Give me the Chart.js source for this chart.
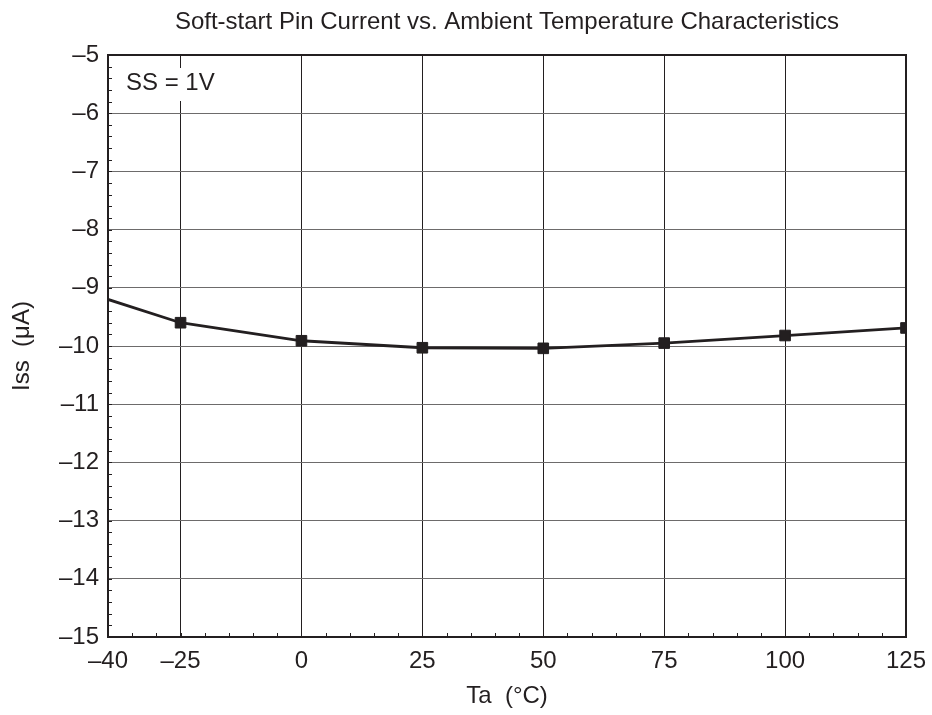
<!DOCTYPE html>
<html>
<head>
<meta charset="utf-8">
<script src="https://cdn.jsdelivr.net/npm/chart.js@4/dist/chart.umd.min.js"></script>
<style>
  html, body { margin: 0; padding: 0; background: #fff; }
  canvas { display: block; }
</style>
</head>
<body>
<canvas id="chart" width="932" height="715"></canvas>
<script>
// Ta (°C) and Iss (µA)
const temps = [-40, -25, 0, 25, 50, 75, 100, 125];
const issValues = [-9.20, -9.60, -9.91, -10.03, -10.04, -9.95, -9.82, -9.69];
const pointSizes = [0, 7.5, 7.5, 7.5, 7.5, 7.5, 7.5, 7.5];
const xTickValues = [-40, -25, 0, 25, 50, 75, 100, 125];
const yTickValues = [-15, -14, -13, -12, -11, -10, -9, -8, -7, -6, -5];

const INK = '#231f20';
const FONT = "'Liberation Sans', Arial, Helvetica, sans-serif";

const fmt = v => (v < 0 ? '\u2013' + Math.abs(v) : String(v));

// frame, minor ticks and the SS = 1V note
const extras = {
  id: 'extras',
  beforeDatasetsDraw(chart) {
    const { ctx, chartArea: a, scales: { x, y } } = chart;
    ctx.save();
    ctx.strokeStyle = INK;
    ctx.lineWidth = 1;
    ctx.beginPath();
    for (let t = -35; t < 125; t += 5) {
      const px = Math.round(x.getPixelForValue(t)) + 0.5;
      ctx.moveTo(px, a.bottom);
      ctx.lineTo(px, a.bottom - 4);
    }
    for (let v = -14.8; v < -5; v += 0.2) {
      const py = Math.round(y.getPixelForValue(v)) + 0.5;
      ctx.moveTo(a.left, py);
      ctx.lineTo(a.left + 4, py);
    }
    ctx.stroke();
    ctx.lineWidth = 2;
    ctx.strokeRect(a.left, a.top, a.right - a.left, a.bottom - a.top);

    ctx.fillStyle = '#fff';
    ctx.fillRect(a.left + 10, a.top + 13, 105, 33);
    ctx.fillStyle = INK;
    ctx.font = '24px ' + FONT;
    ctx.textBaseline = 'middle';
    ctx.fillText('SS = 1V', a.left + 18, a.top + 28);
    ctx.restore();
  }
};

new Chart(document.getElementById('chart'), {
  type: 'line',
  data: {
    labels: temps,
    datasets: [{
      data: temps.map((t, i) => ({ x: t, y: issValues[i] })),
      borderColor: INK,
      backgroundColor: INK,
      borderWidth: 2.8,
      pointStyle: 'rect',
      pointRadius: pointSizes,
      pointBorderWidth: 1,
      tension: 0
    }]
  },
  options: {
    responsive: false,
    animation: false,
    events: [],
    layout: { padding: { left: 0, right: 26, top: 0, bottom: 0 } },
    plugins: {
      legend: { display: false },
      tooltip: { enabled: false },
      title: {
        display: true,
        fullSize: false,
        text: 'Soft-start Pin Current vs. Ambient Temperature Characteristics',
        color: INK,
        font: { family: FONT, size: 24, weight: 'normal' },
        padding: { top: 8, bottom: 18.2 }
      }
    },
    scales: {
      x: {
        type: 'linear',
        min: -40,
        max: 125,
        afterBuildTicks: s => { s.ticks = xTickValues.map(v => ({ value: v })); },
        afterFit: s => { s.height = 78; s.paddingLeft = 0; s.paddingRight = 0; },
        grid: { color: INK, lineWidth: 1, drawTicks: false },
        border: { display: false },
        ticks: {
          color: INK,
          padding: 10,
          maxRotation: 0,
          font: { family: FONT, size: 24 },
          callback: fmt
        },
        title: {
          display: true,
          text: 'Ta  (\u00b0C)',
          color: INK,
          font: { family: FONT, size: 24 },
          padding: { top: 0, bottom: 4 }
        }
      },
      y: {
        min: -15,
        max: -5,
        afterBuildTicks: s => { s.ticks = yTickValues.map(v => ({ value: v })); },
        afterFit: s => { s.width = 108; },
        grid: { color: '#6d6b6b', lineWidth: 1, drawTicks: false },
        border: { display: false },
        ticks: {
          color: INK,
          padding: 9,
          font: { family: FONT, size: 24 },
          callback: fmt
        },
        title: {
          display: true,
          text: 'Iss  (\u03bcA)',
          color: INK,
          font: { family: FONT, size: 24 },
          padding: { top: 8, bottom: 0 }
        }
      }
    }
  },
  plugins: [extras]
});
</script>
</body>
</html>
